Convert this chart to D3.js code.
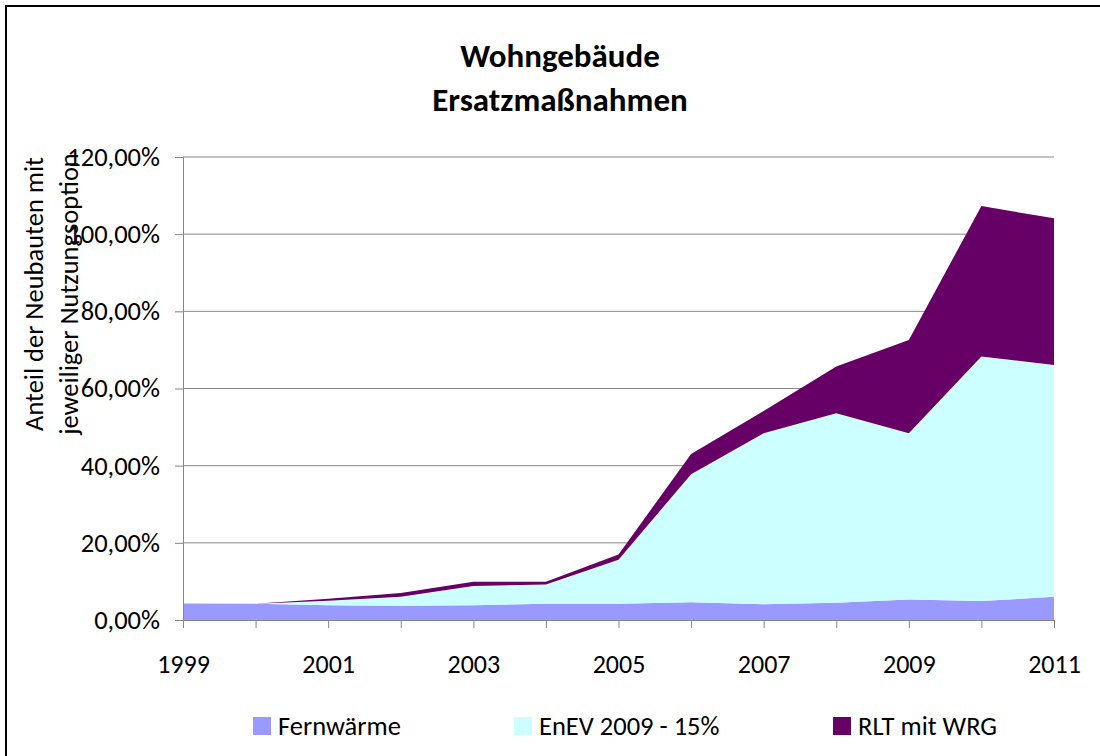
<!DOCTYPE html>
<html>
<head>
<meta charset="utf-8">
<script src="https://cdn.jsdelivr.net/npm/d3@7"></script>
<style>
  body { margin: 0; background: #fff; }
  svg { font-family: Carlito, Lato, "Open Sans", sans-serif; }
  .axis text { fill: #000; }
  .axis path, .axis line { stroke: #868686; }
</style>
</head>
<body>
<svg id="chart" width="1100" height="756"></svg>
<script>
// Jahre und Anteile (in %) je Ersatzmaßnahme
var years = [1999, 2000, 2001, 2002, 2003, 2004, 2005, 2006, 2007, 2008, 2009, 2010, 2011];
var fernwaerme = [4.3, 4.2, 3.8, 3.7, 3.8, 4.2, 4.2, 4.6, 4.1, 4.5, 5.3, 4.9, 6.0];
var enev = [0, 0, 1.2, 2.3, 5.0, 5.0, 11.4, 33.2, 44.3, 49.1, 43.1, 63.4, 60.1];
var rlt = [0, 0, 0.5, 1.0, 1.1, 0.7, 1.4, 5.2, 5.8, 12.1, 24.2, 39.0, 38.0];
var seriesNames = ["Fernwärme", "EnEV 2009 - 15%", "RLT mit WRG"];
var yTicks = [0, 20, 40, 60, 80, 100, 120];
var xLabels = [1999, 2001, 2003, 2005, 2007, 2009, 2011];

var colors = ["#9999ff", "#ccffff", "#660066"];
var fontFam = "Carlito, Lato, 'Open Sans', sans-serif";

var svg = d3.select("#chart"),
    margin = {top: 157, right: 46, bottom: 136, left: 183},
    width = svg.attr("width") - margin.left - margin.right,
    height = svg.attr("height") - margin.top - margin.bottom;

// Rahmen
svg.append("rect")
    .attr("x", 6).attr("y", 6)
    .attr("width", 1110).attr("height", 770)
    .attr("fill", "none").attr("stroke", "#000").attr("stroke-width", 2);

var g = svg.append("g").attr("transform", "translate(" + margin.left + "," + margin.top + ")");

var x = d3.scaleLinear().domain([d3.min(years), d3.max(years)]).range([0, width]);
var y = d3.scaleLinear().domain([0, 120]).range([height, 0]);

var data = years.map(function(yr, i) {
    var d = {year: yr};
    d[seriesNames[0]] = fernwaerme[i];
    d[seriesNames[1]] = enev[i];
    d[seriesNames[2]] = rlt[i];
    return d;
});

// Gitterlinien
g.append("g")
  .selectAll("line")
  .data(yTicks.slice(1))
  .enter().append("line")
    .attr("x1", 0).attr("x2", width)
    .attr("y1", function(d) { return y(d); })
    .attr("y2", function(d) { return y(d); })
    .attr("stroke", "#868686").attr("stroke-width", 1);

var stack = d3.stack().keys(seriesNames)(data);
var area = d3.area()
    .x(function(d) { return x(d.data.year); })
    .y0(function(d) { return y(d[0]); })
    .y1(function(d) { return y(d[1]); });

g.append("g")
  .selectAll("path")
  .data(stack)
  .enter().append("path")
    .attr("fill", function(d, i) { return colors[i]; })
    .attr("d", area);

// Achsen
g.append("g")
    .attr("class", "axis")
    .call(d3.axisLeft(y).tickValues(yTicks).tickSize(8).tickPadding(15)
        .tickFormat(function(d) { return d.toFixed(2).replace(".", ",") + "%"; }))
    .attr("font-family", fontFam)
    .attr("font-size", 26.5);

g.append("g")
    .attr("class", "axis")
    .attr("transform", "translate(0," + height + ")")
    .call(d3.axisBottom(x).tickValues(years).tickSize(8).tickPadding(27)
        .tickFormat(function(d) { return xLabels.indexOf(d) >= 0 ? d : ""; }))
    .attr("font-family", fontFam)
    .attr("font-size", 26);

// Titel
var title = svg.append("text")
    .attr("text-anchor", "middle")
    .attr("font-size", 33)
    .attr("font-weight", "bold");
title.append("tspan").attr("x", 560).attr("y", 67).text("Wohngebäude");
title.append("tspan").attr("x", 560).attr("y", 111).text("Ersatzmaßnahmen");

// Y-Achsentitel
var yTitle = svg.append("text")
    .attr("text-anchor", "middle")
    .attr("font-size", 26.5)
    .attr("transform", "translate(43,294) rotate(-90)");
yTitle.append("tspan").attr("x", 0).attr("y", 0).text("Anteil der Neubauten mit");
yTitle.append("tspan").attr("x", 0).attr("y", 35).text("jeweiliger Nutzungsoption");

// Legende
var legendX = [253, 514, 833];
var legend = svg.append("g")
    .selectAll("g")
    .data(seriesNames)
    .enter().append("g")
    .attr("transform", function(d, i) { return "translate(" + legendX[i] + ",717)"; });

legend.append("rect")
    .attr("width", 18).attr("height", 18)
    .attr("fill", function(d, i) { return colors[i]; });

legend.append("text")
    .attr("x", 25).attr("y", 9)
    .attr("dy", "0.35em")
    .attr("font-size", 26.5)
    .text(function(d) { return d; });
</script>
</body>
</html>
